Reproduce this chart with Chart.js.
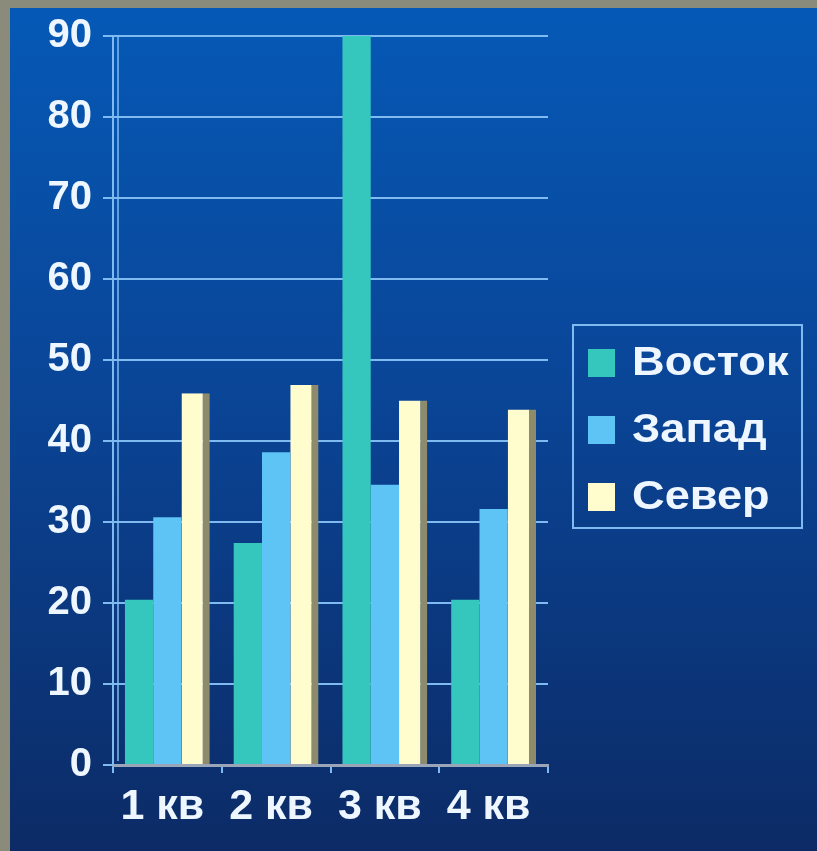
<!DOCTYPE html>
<html>
<head>
<meta charset="utf-8">
<script src="https://cdn.jsdelivr.net/npm/chart.js@4/dist/chart.umd.min.js"></script>
<style>
html,body{margin:0;padding:0;background:#8b8b7b;}
#wrap{width:817px;height:851px;position:relative;}
</style>
</head>
<body>
<div id="wrap"><canvas id="c" width="817" height="851"></canvas></div>
<script>
const categories = ['1 кв', '2 кв', '3 кв', '4 кв'];
const seriesNames = ['Восток', 'Запад', 'Север'];
const vostok = [20.4, 27.4, 90, 20.4];
const zapad = [30.6, 38.6, 34.6, 31.6];
const sever = [45.9, 46.9, 45, 43.9];
const yTicks = [0, 10, 20, 30, 40, 50, 60, 70, 80, 90];
const colors = ['#35c6bd', '#5ec3f5', '#fffccd'];

const LIGHT = '#7fbbf0';
const TEXT = '#eef6ff';
const FONT = '"Liberation Sans", Arial, sans-serif';

const bgPlugin = {
  id: 'bg',
  beforeDraw(chart) {
    const ctx = chart.ctx;
    ctx.save();
    ctx.fillStyle = '#8b8b7b';
    ctx.fillRect(0, 0, chart.width, chart.height);
    const g = ctx.createLinearGradient(0, 8, 0, chart.height);
    g.addColorStop(0, '#0559b6');
    g.addColorStop(0.45, '#0a4597');
    g.addColorStop(1, '#0c2b66');
    ctx.fillStyle = g;
    ctx.fillRect(10, 8, chart.width - 10, chart.height - 8);
    const a = chart.chartArea;
    ctx.strokeStyle = LIGHT;
    ctx.lineWidth = 1.5;
    ctx.beginPath();
    ctx.moveTo(a.left + 5, a.top);
    ctx.lineTo(a.left + 5, a.bottom - 4);
    ctx.stroke();
    ctx.restore();
  }
};

const legendPlugin = {
  id: 'customLegend',
  afterDraw(chart) {
    const ctx = chart.ctx;
    ctx.save();
    ctx.strokeStyle = LIGHT;
    ctx.lineWidth = 2;
    ctx.strokeRect(573, 325, 229, 203);
    ctx.font = 'bold 40px ' + FONT;
    ctx.textBaseline = 'middle';
    ctx.textAlign = 'left';
    chart.data.datasets.forEach((ds, i) => {
      const cy = 363 + i * 67;
      ctx.fillStyle = ds.backgroundColor;
      ctx.fillRect(588, cy - 14, 27, 28);
      ctx.save();
      ctx.translate(632, cy + 1);
      ctx.scale(1.13, 1);
      ctx.fillStyle = TEXT;
      ctx.fillText(ds.label, 0, 0);
      ctx.restore();
    });
    ctx.restore();
  }
};

new Chart(document.getElementById('c'), {
  type: 'bar',
  data: {
    labels: categories,
    datasets: [
      { label: seriesNames[0], data: vostok, backgroundColor: colors[0] },
      { label: seriesNames[1], data: zapad, backgroundColor: colors[1] },
      { label: seriesNames[2], data: sever, backgroundColor: colors[2],
        borderColor: '#8e8b6c', borderWidth: { top: 0, right: 7, bottom: 0, left: 0 }, borderSkipped: false }
    ]
  },
  options: {
    responsive: false,
    animation: false,
    devicePixelRatio: 1,
    layout: { padding: { top: 36, left: 10, right: 269, bottom: 0 } },
    datasets: { bar: { categoryPercentage: 0.78, barPercentage: 1.0 } },
    plugins: { legend: { display: false }, tooltip: { enabled: false } },
    scales: {
      x: {
        afterFit(s) { s.height = 86; },
        grid: {
          offset: true,
          color: (c) => c.index === 4 ? LIGHT : 'transparent',
          tickColor: LIGHT,
          tickLength: 8,
          lineWidth: 2
        },
        border: { display: true, color: '#9aa6b8', width: 3 },
        ticks: { color: TEXT, font: { family: FONT, size: 43, weight: 'bold' }, padding: 8, labelOffset: -5 }
      },
      y: {
        min: 0, max: 90,
        afterFit(s) { s.width = 103; },
        afterBuildTicks(s) { s.ticks = yTicks.map(v => ({ value: v })); },
        grid: { color: LIGHT, lineWidth: 2, tickLength: 10, tickColor: LIGHT },
        border: { display: true, color: LIGHT, width: 2 },
        ticks: { color: TEXT, font: { family: FONT, size: 40, weight: 'bold' }, padding: 11 }
      }
    }
  },
  plugins: [bgPlugin, legendPlugin]
});
</script>
</body>
</html>
